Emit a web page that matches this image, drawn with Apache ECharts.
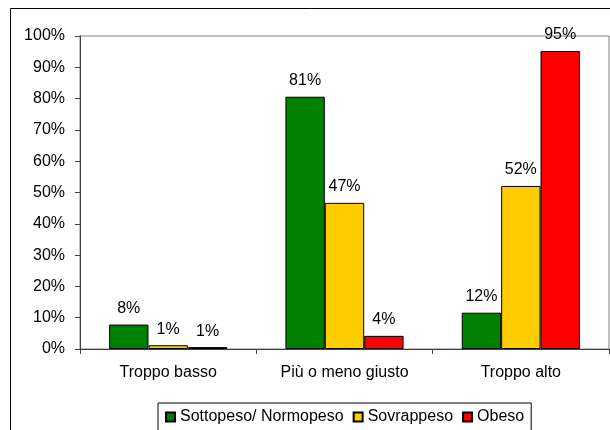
<!DOCTYPE html>
<html>
<head>
<meta charset="utf-8">
<script src="https://cdn.jsdelivr.net/npm/echarts@6/dist/echarts.min.js"></script>
<style>
html,body{margin:0;padding:0;background:#fff;}
#chart{width:610px;height:430px;}
</style>
</head>
<body>
<div id="chart"></div>
<script>
var categories = ['Troppo basso', 'Più o meno giusto', 'Troppo alto'];
var seriesNames = ['Sottopeso/ Normopeso', 'Sovrappeso', 'Obeso'];
var sottoNormo = [7.8, 80.6, 11.6];
var sovrappeso = [1.2, 46.7, 52.1];
var obeso = [0.6, 4.2, 95.2];
var colors = ['#008000', '#FFCC00', '#FF0000'];

var font = 'Liberation Sans, Arial, sans-serif';
var fs = 16;
var chart = echarts.init(document.getElementById('chart'), null, {renderer: 'canvas'});

function mk(name, data, color) {
  return {
    name: name,
    type: 'bar',
    data: data,
    barGap: '0%',
    barCategoryGap: '33%',
    itemStyle: {color: color, borderColor: '#000', borderWidth: 1},
    label: {
      show: true,
      position: 'top',
      distance: 8,
      color: '#000',
      fontFamily: font,
      fontSize: fs,
      formatter: function (p) { return Math.round(p.value) + '%'; }
    }
  };
}

chart.setOption({
  animation: false,
  backgroundColor: '#fff',
  color: colors,
  graphic: [{
    type: 'rect',
    shape: {x: 10.5, y: 8.5, width: 700, height: 500},
    style: {fill: 'none', stroke: '#000', lineWidth: 1},
    silent: true,
    z: -1
  }],
  grid: {
    left: 80, top: 36, right: 1, bottom: 81,
    show: true, borderColor: '#808080', borderWidth: 1, backgroundColor: '#fff'
  },
  legend: {
    left: 158, top: 403,
    orient: 'horizontal',
    itemWidth: 9, itemHeight: 9,
    itemGap: 9,
    padding: [6, 7, 10, 7],
    borderColor: '#000', borderWidth: 1,
    icon: 'rect',
    textStyle: {fontFamily: font, fontSize: fs, color: '#000'},
    data: seriesNames
  },
  xAxis: {
    type: 'category',
    data: categories,
    axisLine: {lineStyle: {color: '#404040', width: 1}},
    axisTick: {show: true, inside: false, length: 5, lineStyle: {color: '#404040'}},
    axisLabel: {fontFamily: font, fontSize: fs, color: '#000', margin: 16},
    splitLine: {show: false}
  },
  yAxis: {
    type: 'value',
    min: 0, max: 100, interval: 10,
    axisLine: {show: true, lineStyle: {color: '#404040', width: 1}},
    axisTick: {show: true, length: 5, lineStyle: {color: '#404040'}},
    axisLabel: {fontFamily: font, fontSize: fs, color: '#000', margin: 15, formatter: '{value}%'},
    splitLine: {show: false}
  },
  series: [
    mk(seriesNames[0], sottoNormo, colors[0]),
    mk(seriesNames[1], sovrappeso, colors[1]),
    mk(seriesNames[2], obeso, colors[2])
  ]
});
</script>
</body>
</html>
